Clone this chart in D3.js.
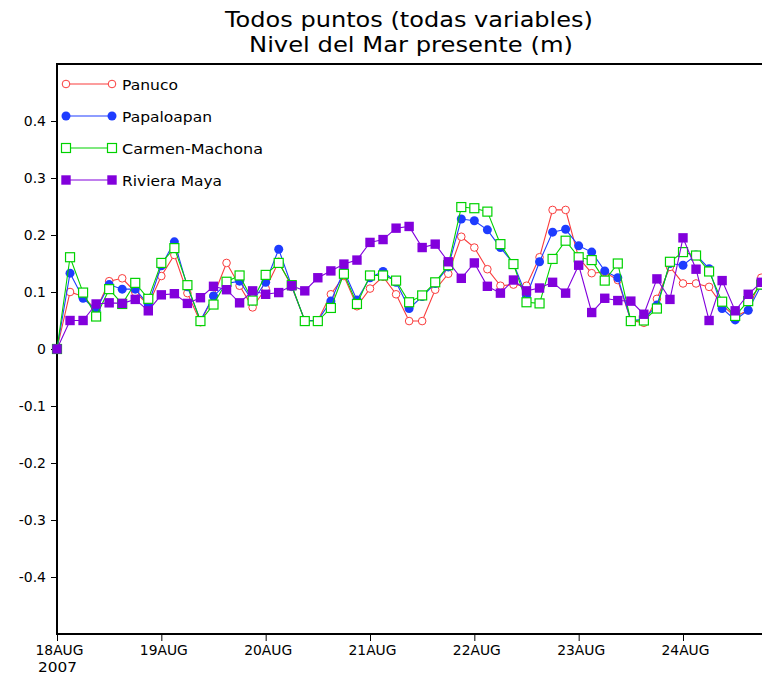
<!DOCTYPE html>
<html><head><meta charset="utf-8">
<script src="https://cdn.jsdelivr.net/npm/d3@7"></script>
<style>body{margin:0;background:#fff;} svg{display:block}</style>
</head><body>
<svg id="chart" width="762" height="678"></svg>
<script>
// ---------- data ----------
const title1 = "Todos puntos (todas variables)";
const title2 = "Nivel del Mar presente (m)";
const startTime = "2007-08-18T00:00:00Z";
const endTime = "2007-08-25T00:00:00Z";
const stepHours = 3;
const seriesNames = ["Panuco", "Papaloapan", "Carmen-Machona", "Riviera Maya"];
const panuco = [0,0.100,0.092,0.068,0.119,0.124,0.100,0.077,0.128,0.165,0.098,0.047,0.093,0.151,0.111,0.073,0.106,0.153,0.109,0.050,0.050,0.096,0.128,0.075,0.106,0.127,0.096,0.049,0.049,0.104,0.132,0.197,0.178,0.140,0.111,0.113,0.111,0.161,0.244,0.244,0.160,0.133,0.135,0.121,0.050,0.046,0.088,0.144,0.115,0.115,0.109,0.077,0.057,0.068,0.125];
const papaloapan = [0,0.133,0.089,0.068,0.113,0.105,0.105,0.078,0.146,0.188,0.109,0.050,0.093,0.115,0.119,0.084,0.117,0.175,0.110,0.050,0.050,0.084,0.137,0.086,0.125,0.136,0.117,0.071,0.092,0.115,0.144,0.228,0.225,0.209,0.178,0.150,0.093,0.153,0.205,0.210,0.181,0.170,0.137,0.125,0.050,0.052,0.077,0.150,0.147,0.165,0.141,0.071,0.051,0.068,0.112];
const carmen = [0,0.161,0.099,0.057,0.105,0.079,0.116,0.088,0.151,0.177,0.112,0.049,0.078,0.118,0.129,0.085,0.130,0.151,0.112,0.049,0.049,0.072,0.132,0.079,0.129,0.129,0.120,0.082,0.094,0.117,0.147,0.249,0.247,0.241,0.184,0.149,0.082,0.080,0.158,0.190,0.161,0.156,0.120,0.150,0.049,0.050,0.071,0.153,0.170,0.164,0.136,0.083,0.058,0.084,0.113];
const riviera = [0,0.050,0.050,0.079,0.081,0.080,0.087,0.067,0.095,0.097,0.080,0.090,0.110,0.104,0.081,0.102,0.096,0.099,0.111,0.102,0.125,0.137,0.149,0.156,0.187,0.192,0.212,0.215,0.178,0.184,0.153,0.124,0.151,0.110,0.098,0.121,0.102,0.107,0.117,0.098,0.147,0.064,0.089,0.085,0.084,0.061,0.123,0.087,0.195,0.140,0.050,0.120,0.067,0.096,0.117];
const yTicks = [-0.4,-0.3,-0.2,-0.1,0,0.1,0.2,0.3,0.4];
const xTickDays = ["2007-08-18","2007-08-19","2007-08-20","2007-08-21","2007-08-22","2007-08-23","2007-08-24"];
const monthLabel = "AUG";
const yearLabel = "2007";

// ---------- styles ----------
const colors = ["rgb(250,60,60)", "rgb(30,60,255)", "rgb(0,210,0)", "rgb(130,0,220)"];
const markers = ["openCircle", "filledCircle", "openSquare", "filledSquare"];
const FONT = "DejaVu Sans, sans-serif";

const svg = d3.select("#chart");
const mLeft = 57, mTop = 64, mBottom = 634;
const dayPx = (683 - 57) / 6;

const t0 = new Date(startTime);
const times = panuco.map((_, i) => new Date(t0.getTime() + i * stepHours * 3600e3));

const x = d3.scaleUtc().domain([t0, new Date(endTime)]).range([mLeft, mLeft + 7 * dayPx]);
const y = d3.scaleLinear().domain([-0.5, 0.5]).range([mBottom, mTop]);

// title
svg.append("text").attr("x", 409).attr("y", 27).attr("text-anchor", "middle")
  .attr("font-family", FONT).attr("font-size", 22).attr("textLength", 368).attr("lengthAdjust", "spacingAndGlyphs")
  .text(title1);
svg.append("text").attr("x", 411).attr("y", 52).attr("text-anchor", "middle")
  .attr("font-family", FONT).attr("font-size", 22).attr("textLength", 324).attr("lengthAdjust", "spacingAndGlyphs")
  .text(title2);

// y axis
const fmtY = v => (Math.abs(v) < 1e-9 ? "0" : (v < 0 ? "-" : "") + Math.abs(v).toFixed(1));
const yAxis = svg.append("g").attr("transform", `translate(${mLeft},0)`)
  .call(d3.axisLeft(y).tickValues(yTicks).tickSize(6).tickPadding(5).tickFormat(fmtY));
yAxis.select(".domain").remove();
yAxis.selectAll(".tick line").attr("stroke", "#000").attr("stroke-width", 1);
yAxis.selectAll(".tick text").attr("font-family", FONT).attr("font-size", 14).attr("fill", "#000");

// x axis
const xAxis = svg.append("g").attr("transform", `translate(0,${mBottom})`)
  .call(d3.axisBottom(x).tickValues(xTickDays.map(d => new Date(d + "T00:00:00Z"))).tickSize(7).tickFormat(""));
xAxis.select(".domain").remove();
xAxis.selectAll(".tick line").attr("stroke", "#000").attr("stroke-width", 1);
xAxis.selectAll(".tick").each(function(d, i) {
  const g = d3.select(this);
  g.append("text").attr("x", 2).attr("y", 21).attr("text-anchor", "middle")
    .attr("font-family", FONT).attr("font-size", 14).attr("fill", "#000")
    .attr("textLength", 48).attr("lengthAdjust", "spacingAndGlyphs")
    .text(d3.utcFormat("%d")(d) + monthLabel);
  if (i === 0) {
    g.append("text").attr("x", 0).attr("y", 38).attr("text-anchor", "middle")
      .attr("font-family", FONT).attr("font-size", 14).attr("fill", "#000")
      .attr("textLength", 39).attr("lengthAdjust", "spacingAndGlyphs")
      .text(yearLabel);
  }
});

// frame
svg.append("rect").attr("x", mLeft).attr("y", mTop).attr("width", 7 * dayPx).attr("height", mBottom - mTop)
  .attr("fill", "none").attr("stroke", "#000").attr("stroke-width", 2);

// markers
function drawMarker(g, type, cx, cy, color) {
  if (type === "openCircle") g.append("circle").attr("cx", cx).attr("cy", cy).attr("r", 3.8).attr("fill", "#fff").attr("stroke", color).attr("stroke-width", 1);
  else if (type === "filledCircle") g.append("circle").attr("cx", cx).attr("cy", cy).attr("r", 4.5).attr("fill", color);
  else if (type === "openSquare") g.append("rect").attr("x", cx - 4.5).attr("y", cy - 4.5).attr("width", 9).attr("height", 9).attr("fill", "#fff").attr("stroke", color).attr("stroke-width", 1.2);
  else g.append("rect").attr("x", cx - 4.7).attr("y", cy - 4.7).attr("width", 9.4).attr("height", 9.4).attr("fill", color);
}

const allSeries = [panuco, papaloapan, carmen, riviera];
const line = d3.line().x((d, i) => x(times[i])).y(d => y(d));
const plot = svg.append("g");
allSeries.forEach((vals, s) => {
  const g = plot.append("g");
  g.append("path").datum(vals).attr("d", line).attr("fill", "none").attr("stroke", colors[s]).attr("stroke-width", 1.1);
  vals.forEach((v, i) => drawMarker(g, markers[s], x(times[i]), y(v), colors[s]));
});

// legend
const legendRows = [84, 116, 148, 180];
const legendTextLen = [56, 90, 141, 100];
seriesNames.forEach((name, s) => {
  const g = svg.append("g");
  const ly = legendRows[s];
  g.append("line").attr("x1", 66).attr("x2", 112).attr("y1", ly).attr("y2", ly).attr("stroke", colors[s]).attr("stroke-width", 1.1);
  drawMarker(g, markers[s], 66, ly, colors[s]);
  drawMarker(g, markers[s], 112, ly, colors[s]);
  g.append("text").attr("x", 122).attr("y", ly + 5.5).attr("font-family", FONT).attr("font-size", 14.5)
    .attr("textLength", legendTextLen[s]).attr("lengthAdjust", "spacingAndGlyphs").attr("fill", "#000")
    .text(name);
});
</script>
</body></html>
